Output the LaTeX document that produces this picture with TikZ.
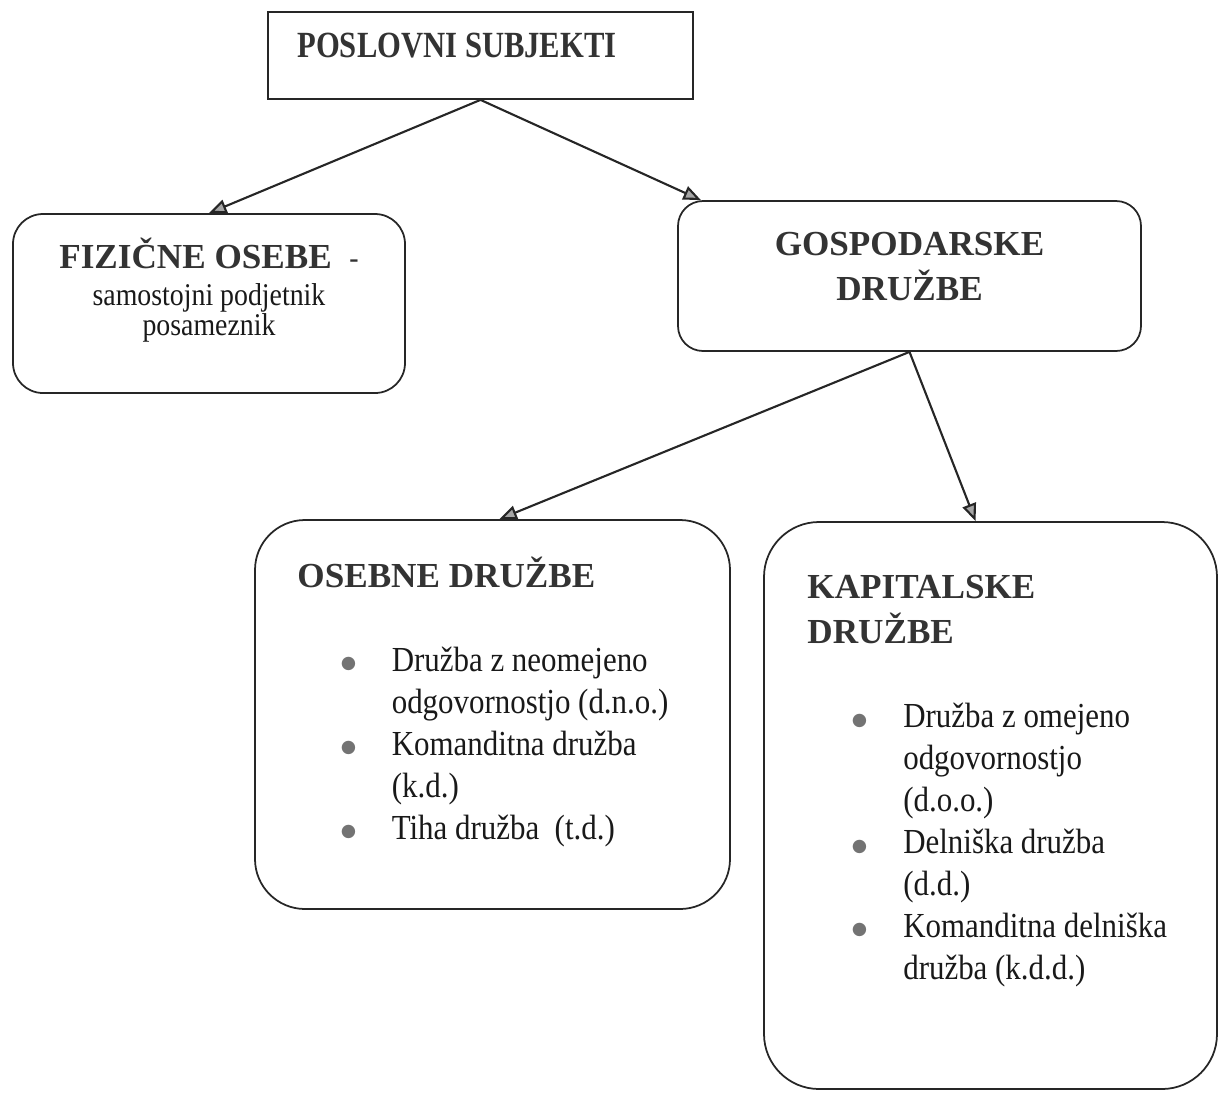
\documentclass[tikz,border=0pt]{standalone}
\usepackage{fontspec}
\setmainfont{Liberation Serif}
\newfontfamily\psBodyFam[FakeStretch=0.88]{Liberation Serif}
\newfontfamily\psTitleFam[FakeStretch=0.83]{Liberation Serif}
\newfontfamily\psSymFam{DejaVu Sans}
\usetikzlibrary{arrows.meta,positioning}

\newcommand{\psTitle}{\psTitleFam\fontsize{21}{24}\selectfont\bfseries}
\newcommand{\psHead}{\fontsize{20}{26.1}\selectfont\bfseries}
\newcommand{\psSub}{\psBodyFam\fontsize{18}{16.4}\selectfont}
\newcommand{\psItem}{\psBodyFam\fontsize{20}{23.9}\selectfont}
\newcommand{\psBullet}{\raisebox{1.5pt}{\psSymFam\fontsize{10}{10}\selectfont\textcolor{black!55}{●}}}

\begin{document}
\begin{tikzpicture}[>=Latex,
  box/.style={draw=black!85, line width=1pt, inner sep=0pt},
  rbox/.style={box, rounded corners=#1},
  head/.style={inner sep=0pt, text=black!80, font=\psHead},
  lst/.style={inner sep=0pt, text=black!90, font=\psItem},
  arr/.style={draw=black!85, line width=1.2pt, -{Triangle[length=10pt, width=8pt, fill=gray!70]}}]
\useasboundingbox (0,0) rectangle (24.42,-21.84);
\node[box, minimum width=8.5cm, minimum height=1.74cm] (subj) at (9.61,-1.11) {};
\node[rbox=0.6cm, minimum width=7.84cm, minimum height=3.58cm] (fiz) at (4.18,-6.07) {};
\node[rbox=0.5cm, minimum width=9.26cm, minimum height=3cm] (gosp) at (18.19,-5.52) {};
\node[rbox=1cm, minimum width=9.5cm, minimum height=7.78cm] (oseb) at (9.85,-14.29) {};
\node[rbox=1.1cm, minimum width=9.06cm, minimum height=11.34cm] (kap) at (19.81,-16.11) {};

\node[head, font=\psTitle, below=0.92cm of subj.north, xshift=-0.47cm, anchor=base] (subjT) {POSLOVNI SUBJEKTI};
\node[head, below=1.1cm of fiz.north, anchor=base] (fizT) {FIZIČNE OSEBE\hspace{0.5em}{\mdseries\psSub -}};
\node[lst, font=\psSub, below=1.84cm of fiz.north, anchor=base] (fizS)
  {\begin{tabular}[t]{@{}c@{}}samostojni podjetnik\\ posameznik\end{tabular}};
\node[head, below=1.1cm of gosp.north, anchor=base] (gospT)
  {\begin{tabular}[t]{@{}c@{}}GOSPODARSKE\\ DRUŽBE\end{tabular}};
\node[head, below right=1.36cm and 0.86cm of oseb.north west, anchor=base west] (osebT) {OSEBNE DRUŽBE};
\node[lst, below right=3.04cm and 1.73cm of oseb.north west, anchor=base west] (osebL)
  {\begin{tabular}[t]{@{}l@{\hspace{0.71cm}}l@{}}
   \psBullet & Družba z neomejeno\\
             & odgovornostjo (d.n.o.)\\
   \psBullet & Komanditna družba\\
             & (k.d.)\\
   \psBullet & Tiha družba~ (t.d.)
   \end{tabular}};
\node[head, below right=1.54cm and 0.88cm of kap.north west, anchor=base west] (kapT)
  {\begin{tabular}[t]{@{}l@{}}KAPITALSKE\\ DRUŽBE\end{tabular}};
\node[lst, below right=4.13cm and 1.77cm of kap.north west, anchor=base west] (kapL)
  {\begin{tabular}[t]{@{}l@{\hspace{0.72cm}}l@{}}
   \psBullet & Družba z omejeno\\
             & odgovornostjo\\
             & (d.o.o.)\\
   \psBullet & Delniška družba\\
             & (d.d.)\\
   \psBullet & Komanditna delniška\\
             & družba (k.d.d.)
   \end{tabular}};

\draw[arr] (subj.south) -- (fiz.north);
\draw[arr] (subj.south) -- (gosp.160);
\draw[arr] (gosp.south) -- (oseb.88);
\draw[arr] (gosp.south) -- (kap.93);
\end{tikzpicture}
\end{document}
